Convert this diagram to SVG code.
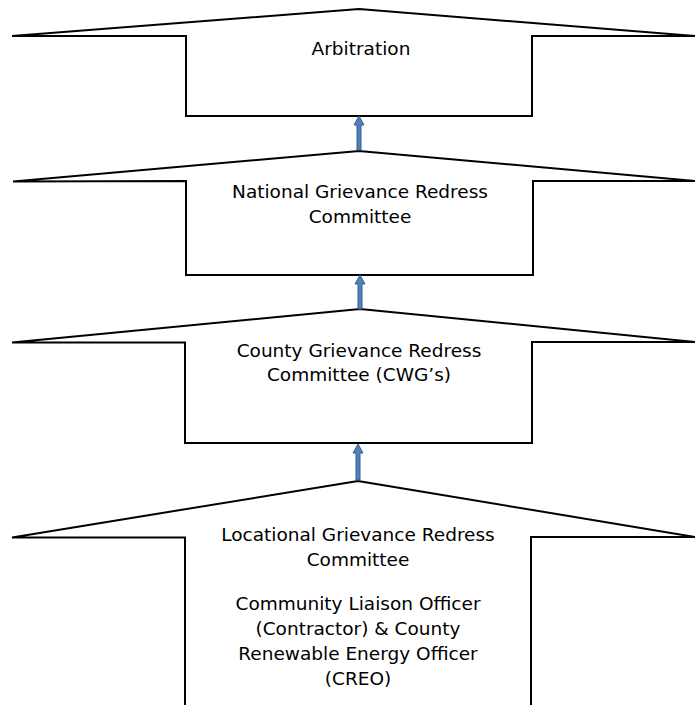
<svg xmlns="http://www.w3.org/2000/svg" width="695" height="705" viewBox="0 0 695 705">
<style>
.shape{fill:#ffffff;stroke:#000000;stroke-width:2;stroke-linejoin:miter}
.lbl{font-family:"DejaVu Sans","Liberation Sans",sans-serif;font-size:18.5px;fill:#000000;text-anchor:middle}
.arr{fill:#4F81BD;stroke:#385D8A;stroke-width:1}
</style>
<rect width="695" height="705" fill="#ffffff"/>
<g id="arbitration">
<polygon class="shape" points="359,9 695,36 532,36 532,116 186,116 186,36 12,36"/>
<text class="lbl" x="361" y="55">Arbitration</text>
</g>
<g id="national">
<polygon class="shape" points="359,151 695,181 533,181 533,275 186,275 186,181 13,181.5"/>
<text class="lbl" x="360" y="198">National Grievance Redress</text>
<text class="lbl" x="360" y="223">Committee</text>
</g>
<g id="county">
<polygon class="shape" points="360,309 695,342 532,342 532,443 185,443 185,342.5 12,342.5"/>
<text class="lbl" x="359" y="357">County Grievance Redress</text>
<text class="lbl" x="359" y="381">Committee (CWG’s)</text>
</g>
<g id="locational">
<polygon class="shape" points="358,481 695,537 531,537 531,712 185,712 185,537.5 12,537.5"/>
<text class="lbl" x="358" y="541">Locational Grievance Redress</text>
<text class="lbl" x="358" y="566">Committee</text>
<text class="lbl" x="358" y="610">Community Liaison Officer</text>
<text class="lbl" x="358" y="635">(Contractor) &amp; County</text>
<text class="lbl" x="358" y="660">Renewable Energy Officer</text>
<text class="lbl" x="358" y="685">(CREO)</text>
</g>
<g id="connectors">
<polygon class="arr" points="357,150 357,125 354,125 359,116 364,125 361,125 361,150"/>
<polygon class="arr" points="358,309 358,284 355,284 360,275 365,284 362,284 362,309"/>
<polygon class="arr" points="356,480 356,453 353,453 358,444 363,453 360,453 360,480"/>
</g>
</svg>
